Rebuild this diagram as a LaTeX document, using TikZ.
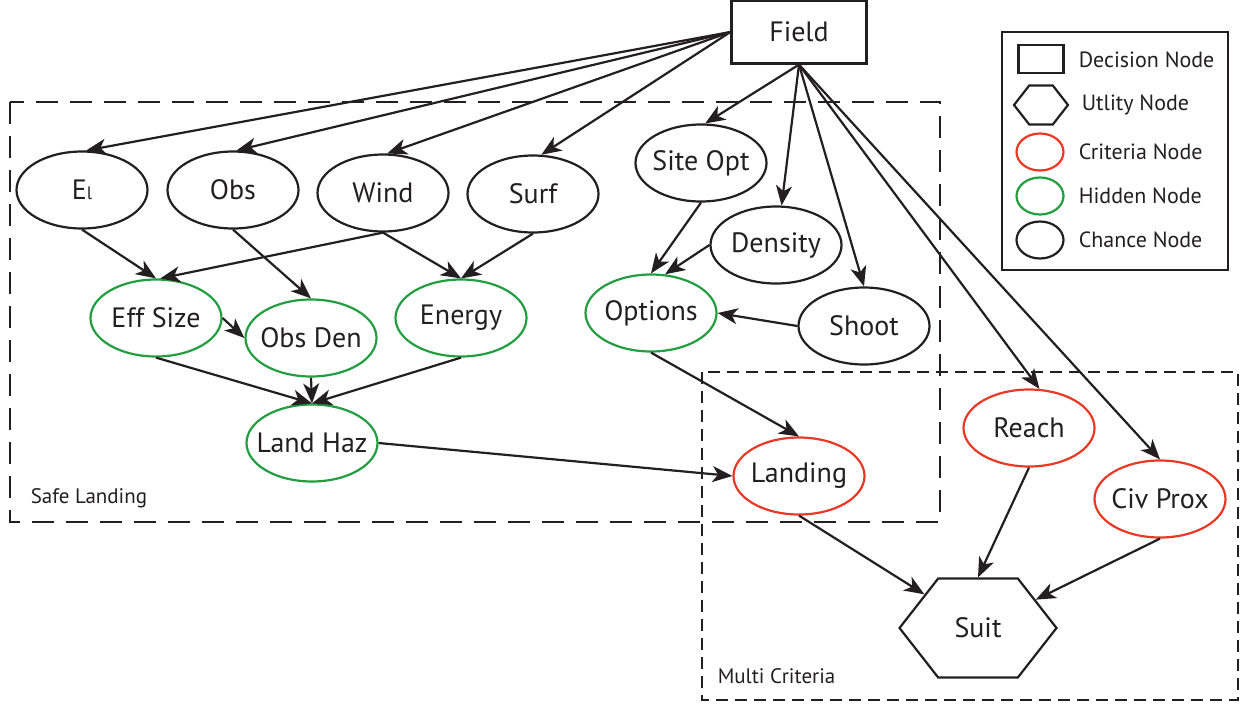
\documentclass[tikz,border=0pt]{standalone}
\usepackage{fontspec}
\setmainfont{PT Sans}
\usetikzlibrary{arrows.meta,shapes.geometric,shapes.symbols}

\definecolor{critred}{RGB}{232,56,38}
\definecolor{hidgreen}{RGB}{34,158,64}
\definecolor{inkblack}{RGB}{35,31,32}

\begin{document}
\begin{tikzpicture}[
	>={Stealth[length=10pt,width=8pt,inset=2.8pt]},
	line width=1.1pt,
	x=0.5pt,y=-0.5pt,
	font=\fontsize{14}{14}\selectfont,
	color=inkblack,
	chance/.style={draw, ellipse, minimum width=65.5pt, minimum height=38.5pt, inner xsep=-5pt, inner ysep=0pt},
	hidden/.style={chance, draw=hidgreen},
	crit/.style={chance, draw=critred},
	decision/.style={draw, rectangle, minimum width=67.5pt, minimum height=31.5pt},
	utility/.style={draw, signal, signal to=west and east, signal pointer angle=104, minimum width=78.5pt, minimum height=49.5pt, inner sep=0pt},
	regionbig/.style={dash pattern=on 11pt off 6pt},
	regionsmall/.style={dash pattern=on 6pt off 3.5pt},
	legtext/.style={anchor=west, font=\fontsize{11}{11}\selectfont},
	]
\useasboundingbox (0,0) rectangle (1246,707);

% begin regions
\draw[regionbig] (10,102) rectangle (940,522);
\draw[regionsmall] (702,372) rectangle (1238,700);
\node[anchor=west, font=\fontsize{10.5}{10.5}\selectfont] (safe_lbl) at (23,498) {Safe Landing};
\node[anchor=west, font=\fontsize{10.5}{10.5}\selectfont] (multi_lbl) at (710,676) {Multi Criteria};
% end regions

			\node[decision] (field)   at (799,32) {Field};
			\node[chance] (el)   at (82,190) {E{\fontsize{9}{9}\selectfont l}};
			\node[chance] (obs)   at (233,190) {Obs};
			\node[chance] (wind)   at (383,193) {Wind};
			\node[chance] (surf)   at (533,194) {Surf};
			\node[chance] (siteopt)   at (701,163) {Site Opt};
			\node[chance] (density)   at (776,245) {Density};
			\node[chance] (shoot)   at (864,326) {Shoot};
			\node[hidden] (effsize)   at (156,318) {Eff Size};
			\node[hidden] (obsden)   at (311,338) {Obs Den};
			\node[hidden] (energy)   at (461,318) {Energy};
			\node[hidden] (options)   at (651,313) {Options};
			\node[hidden] (landhaz)   at (312,443) {Land Haz};
			\node[crit] (landing)   at (799,476) {Landing};
			\node[crit] (reach)   at (1029,428) {Reach};
			\node[crit] (civprox)   at (1160,499) {Civ Prox};
			\node[utility] (suit)   at (978,628) {Suit};

			\draw[->] (field.west) -- (el.84);
			\draw[->] (field.west) -- (obs.85);
			\draw[->] (field.west) -- (wind.84);
			\draw[->] (field.west) -- (surf.78);
			\draw[->] (field.south) -- (siteopt.84);
			\draw[->] (field.south) -- (density.82);
			\draw[->] (field.south) -- (shoot.north);
			\draw[->] (field.south) -- (reach.75);
			\draw[->] (field.south) -- (civprox.north);
			\draw[->] (el.south) -- (effsize.north);
			\draw[->] (wind.south) -- (effsize.84);
			\draw[->] (obs.south) -- (obsden.north);
			\draw[->] (wind.south) -- (energy.north);
			\draw[->] (surf.south) -- (energy.north);
			\draw[->] (effsize.east) -- (obsden.west);
			\draw[->] (effsize.south) -- (landhaz.north);
			\draw[->] (obsden.south) -- (landhaz.north);
			\draw[->] (energy.south) -- (landhaz.north);
			\draw[->] (siteopt.south) -- (options.north);
			\draw[->] (density.west) -- (options.70);
			\draw[->] (shoot.west) -- (options.east);
			\draw[->] (options.south) -- (landing.north);
			\draw[->] (landhaz.east) -- (landing.west);
			\draw[->] (landing.south) -- (suit);
			\draw[->] (reach.south) -- (suit.north);
			\draw[->] (civprox.south) -- (suit);

% begin legend
\draw (1002,32) rectangle (1228,270);
\node[decision, minimum width=22.5pt, minimum height=14pt] (leg_dec) at (1041,59) {};
\node[utility, minimum width=27pt, minimum height=19.5pt] (leg_util) at (1041,105) {};
\node[crit, minimum width=23.5pt, minimum height=18.5pt] (leg_crit) at (1040,152) {};
\node[hidden, minimum width=23.5pt, minimum height=18.5pt] (leg_hid) at (1040,196) {};
\node[chance, minimum width=23.5pt, minimum height=18.5pt] (leg_chance) at (1040,240) {};
\node[legtext] (leg_dec_t) at (1071,60) {Decision Node};
\node[legtext] (leg_util_t) at (1074,105) {Utlity Node};
\node[legtext] (leg_crit_t) at (1071,152) {Criteria Node};
\node[legtext] (leg_hid_t) at (1071,196) {Hidden Node};
\node[legtext] (leg_chance_t) at (1071,240) {Chance Node};
% end legend

\end{tikzpicture}
\end{document}
